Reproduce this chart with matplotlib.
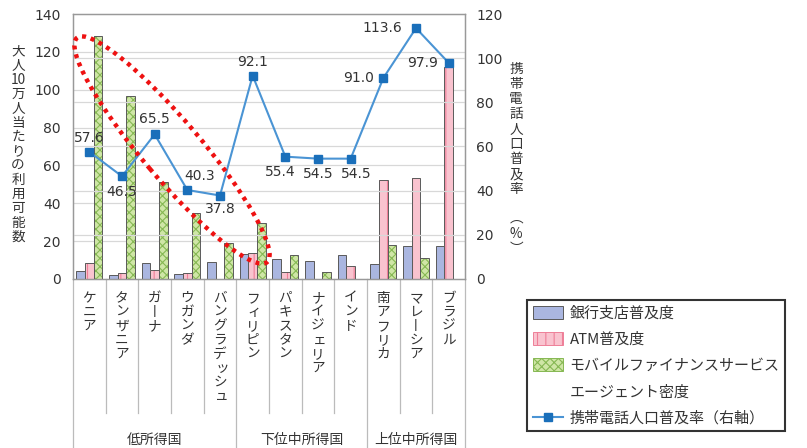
import matplotlib
matplotlib.use("Agg")
import matplotlib.pyplot as plt
from matplotlib.patches import Patch, Ellipse
from matplotlib.lines import Line2D
import numpy as np

plt.rcParams['font.family'] = ['Noto Sans CJK JP', 'DejaVu Sans']
plt.rcParams['hatch.linewidth'] = 0.8

# ---- data ----
countries = ["ケニア", "タンザニア", "ガーナ", "ウガンダ", "バングラデッシュ",
             "フィリピン", "パキスタン", "ナイジェリア", "インド",
             "南アフリカ", "マレーシア", "ブラジル"]
bank_branches = [4.4, 1.9, 8.3, 2.5, 8.8, 13.4, 10.6, 9.3, 12.7, 7.9, 17.2, 17.2]
atms = [8.3, 3.0, 4.7, 3.0, 0.0, 13.9, 3.9, 0.0, 7.0, 52.4, 53.6, 112.2]
mobile_agents = [128.6, 96.9, 51.0, 34.8, 19.0, 29.5, 12.7, 3.5, 0.0, 17.9, 11.1, 0.0]
mobile_penetration = [57.6, 46.5, 65.5, 40.3, 37.8, 92.1, 55.4, 54.5, 54.5, 91.0, 113.6, 97.9]
income_groups = ["低所得国", "下位中所得国", "上位中所得国"]
group_sizes = [5, 4, 3]

legend_labels = ["銀行支店普及度", "ATM普及度", "モバイルファイナンスサービス",
                 "エージェント密度", "携帯電話人口普及率（右軸）"]
left_label = ["大", "人", "10", "万", "人", "当", "た", "り", "の", "利", "用", "可", "能", "数"]
right_label = ["携", "帯", "電", "話", "人", "口", "普", "及", "率", "", "︵", "%", "︶"]

# ---- styles ----
BLUE = "#aab6e0"
PINK = "#f9c3cf"
PINK_STRIPE = "#ee7f98"
GREEN = "#cfe6a6"
GREEN_HATCH = "#86b853"
EDGE = "#5a5a5a"
LINE = "#4a94d4"
MARK = "#1a6fba"
GRID = "#d8d8d8"
TXT = "#333333"
SEP = "#bbbbbb"

W, H, DPI = 807, 448, 100
fig = plt.figure(figsize=(W / DPI, H / DPI), dpi=DPI)
ax = fig.add_axes([73 / W, 1 - 279 / H, (465 - 73) / W, (279 - 14) / H])
ax2 = ax.twinx()

n = len(countries)
x = np.arange(n)
bw = 0.265

ax.set_xlim(-0.5, n - 0.5)
ax.set_ylim(0, 140)
ax2.set_ylim(0, 120)

# grid lines for both scales
for v in range(20, 140, 20):
    ax.axhline(v, color=GRID, lw=0.9, zorder=0)
for v in range(20, 120, 20):
    ax2.axhline(v, color=GRID, lw=0.9, zorder=0)

# bars
ax.bar(x - bw, bank_branches, bw, color=BLUE, edgecolor=EDGE, lw=0.7, zorder=2)
ax.bar(x, atms, bw, color=PINK, edgecolor=PINK_STRIPE, hatch="||", lw=0, zorder=2)
ax.bar(x, atms, bw, color="none", edgecolor=EDGE, lw=0.7, zorder=3)
ax.bar(x + bw, mobile_agents, bw, color=GREEN, edgecolor=GREEN_HATCH, hatch="xxxx", lw=0, zorder=2)
ax.bar(x + bw, mobile_agents, bw, color="none", edgecolor=EDGE, lw=0.7, zorder=3)

# mobile penetration line on the right scale
ax2.plot(x, mobile_penetration, color=LINE, lw=1.5, marker="s", ms=6,
         mfc=MARK, mec=MARK, zorder=5)
label_offsets = [(0, 10), (0, -11), (0, 11), (9, 10), (0, -10), (0, 9.5),
                 (-4, -11), (0, -11), (4, -11), (-18, 0), (-24, 0), (-19, 0)]
for xi, v, (dx, dy) in zip(x, mobile_penetration, label_offsets):
    ax2.annotate(f"{v:.1f}", (xi, v), xytext=(dx, dy), textcoords="offset points",
                 ha="center", va="center", fontsize=10, color=TXT,
                 family="DejaVu Sans", zorder=6)

# axes look
for a in (ax, ax2):
    for s in a.spines.values():
        s.set_color("#999999")
        s.set_linewidth(0.9)
    a.tick_params(length=0, colors=TXT, labelsize=10)
ax.set_yticks(range(0, 141, 20))
ax2.set_yticks(range(0, 121, 20))
for lab in ax.get_yticklabels() + ax2.get_yticklabels():
    lab.set_family("DejaVu Sans")
ax.tick_params(axis="y", pad=9)
ax2.tick_params(axis="y", pad=8)
ax.set_xticks([])

# category separators and group separators below the axis
xt = ax.get_xaxis_transform()
cat_depth = -(413 - 279) / 265
grp_depth = -(448 - 279) / 265
bounds = np.cumsum([0] + group_sizes) - 0.5
for b in np.arange(-0.5, n, 1.0):
    depth = grp_depth if np.any(np.isclose(b, bounds)) else cat_depth
    ax.plot([b, b], [0, depth], transform=xt, color=SEP, lw=0.9, clip_on=False)


def vertical_text(axis, xpos, ypos, tokens, step_px, transform, size, **kw):
    """Stack characters top to bottom, one per cell."""
    small = set("ッュィェャョ")
    for i, t in enumerate(tokens):
        if not t:
            continue
        dx, dy = 0.0, -i * step_px
        if t in small:
            dx += 2.0
        if t == "ー":
            t = "丨"
        axis.annotate(t, (xpos, ypos), xycoords=transform,
                      xytext=(dx * 0.72, dy * 0.72), textcoords="offset points",
                      ha="center", va="top", fontsize=size, color=TXT,
                      annotation_clip=False, **kw)


top_cat = -(291 - 279) / 265
for xi, name in zip(x, countries):
    vertical_text(ax, xi, top_cat, list(name), 14.0, xt, 9.8)

# income group labels
start = 0
for g, sz in zip(income_groups, group_sizes):
    mid = start + (sz - 1) / 2
    ax.text(mid, -(440 - 279) / 265, g, transform=xt, ha="center", va="center",
            fontsize=10, color=TXT)
    start += sz

# axis titles written vertically
vertical_text(ax, 18 / W, 1 - 44 / H, left_label, 14.3, fig.transFigure, 9.8)
vertical_text(ax, 516 / W, 1 - 62 / H, right_label, 15.0, fig.transFigure, 9.8)

# highlight around the low-income mobile-agent bars
ell = Ellipse((1.72, (H - 150) / DPI), width=2.94, height=0.58,
              angle=-49.7, transform=fig.dpi_scale_trans, fill=False,
              edgecolor="#ee1111", lw=3.2, linestyle=(0, (0.9, 1.1)), zorder=10)
fig.add_artist(ell)

# legend
handles = [
    Patch(facecolor=BLUE, edgecolor=EDGE, lw=0.7),
    Patch(facecolor=PINK, edgecolor=PINK_STRIPE, hatch="||", lw=0.7),
    Patch(facecolor=GREEN, edgecolor=GREEN_HATCH, hatch="xxxx", lw=0.7),
    Patch(facecolor="none", edgecolor="none"),
    Line2D([], [], color=LINE, lw=1.5, marker="s", ms=6, mfc=MARK, mec=MARK),
]
leg = fig.legend(handles, legend_labels, loc="upper left",
                 bbox_to_anchor=(527 / W, 1 - 300 / H), bbox_transform=fig.transFigure,
                 borderaxespad=0, fontsize=10.8, frameon=True, fancybox=False,
                 handlelength=2.0, handleheight=0.95, handletextpad=0.45,
                 labelspacing=0.78, borderpad=0.38)
leg.get_frame().set_edgecolor("black")
leg.get_frame().set_linewidth(1.5)
for t in leg.get_texts():
    t.set_color(TXT)

fig.savefig("out.png", dpi=DPI)
